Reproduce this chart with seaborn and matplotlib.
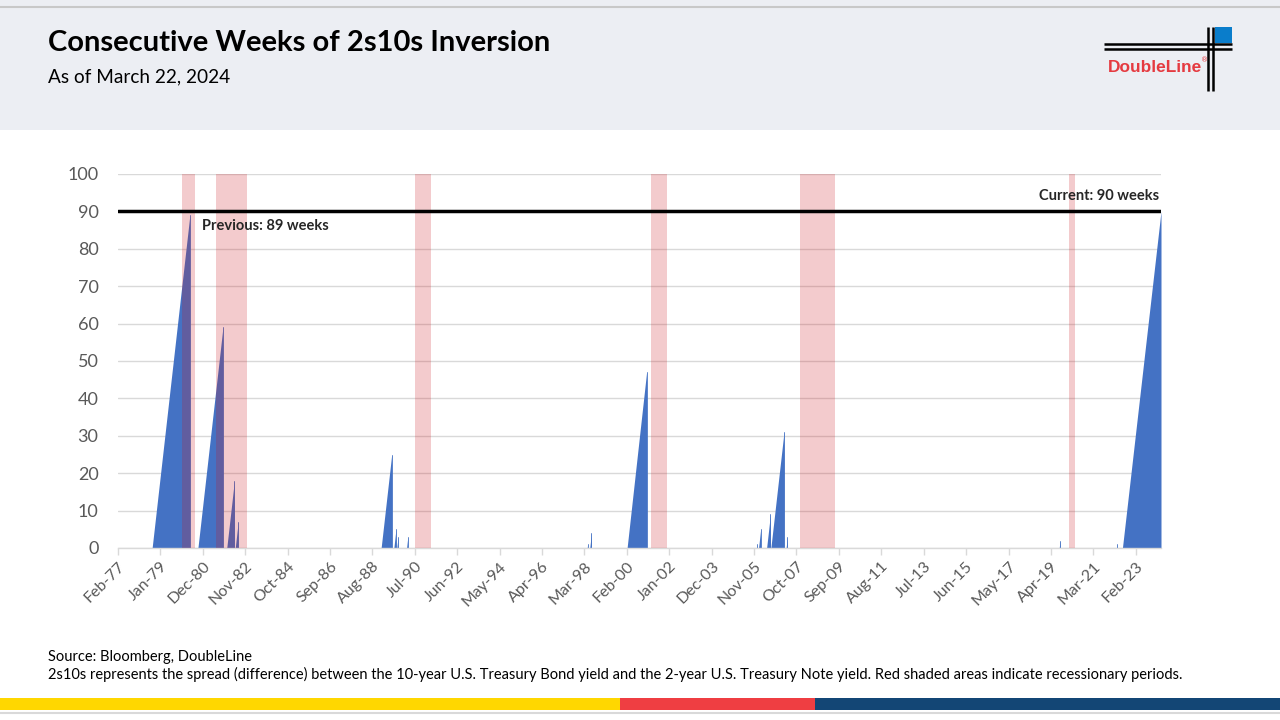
import pandas as pd
import matplotlib.pyplot as plt
import seaborn as sns
from matplotlib.patches import Rectangle

# inversion episodes: last week with 0, week of the peak, peak weeks
ep_start = ['1978-08-18', '1980-09-12', '1982-01-01', '1982-05-21', '1988-12-23',
            '1989-07-21', '1989-09-08', '1990-02-16', '1998-04-17', '1998-05-29',
            '2000-02-04', '2005-12-16', '2006-01-13', '2006-05-26', '2006-08-04',
            '2007-04-13', '2019-08-16', '2022-03-25', '2022-06-24']
ep_end = ['1980-05-02', '1981-10-30', '1982-05-07', '1982-07-09', '1989-06-16',
          '1989-08-25', '1989-09-29', '1990-03-09', '1998-04-24', '1998-06-26',
          '2000-12-22', '2005-12-23', '2006-02-17', '2006-07-28', '2007-03-09',
          '2007-05-04', '2019-08-30', '2022-04-01', '2024-03-22']
ep_peak = [89, 59, 18, 7, 25, 5, 3, 3, 1, 4, 47, 1, 5, 9, 31, 3, 2, 1, 90]

# NBER recessions
rec_start = ['1980-01-01', '1981-07-01', '1990-07-01', '2001-03-01', '2007-12-01', '2020-02-01']
rec_end = ['1980-07-31', '1982-11-30', '1991-03-31', '2001-11-30', '2009-06-30', '2020-04-30']

tick_labels = ['Feb-77', 'Jan-79', 'Dec-80', 'Nov-82', 'Oct-84', 'Sep-86', 'Aug-88',
               'Jul-90', 'Jun-92', 'May-94', 'Apr-96', 'Mar-98', 'Feb-00', 'Jan-02',
               'Dec-03', 'Nov-05', 'Oct-07', 'Sep-09', 'Aug-11', 'Jul-13', 'Jun-15',
               'May-17', 'Apr-19', 'Mar-21', 'Feb-23']

prev_peak = 89
current = 90

rows = []
for i, (s, e, p) in enumerate(zip(ep_start, ep_end, ep_peak)):
    rows.append((i, pd.Timestamp(s), 0))
    rows.append((i, pd.Timestamp(e), p))
    rows.append((i, pd.Timestamp(e), 0))
df = pd.DataFrame(rows, columns=['episode', 'date', 'weeks'])

sns.set_theme(style='white')
plt.rcParams['font.family'] = ['Lato', 'DejaVu Sans']

fig = plt.figure(figsize=(12.8, 7.2), dpi=100)
fig.patch.set_facecolor('white')

# decoration layer in pixel coordinates
deco = fig.add_axes([0, 0, 1, 1], zorder=0)
deco.set_xlim(0, 1280)
deco.set_ylim(720, 0)
deco.axis('off')
deco.add_patch(Rectangle((0, 0), 1280, 130, color='#ECEEF3', lw=0))
deco.plot([0, 1280], [7, 7], color='#C8C8C8', lw=1.5)
deco.text(48, 43, 'Consecutive Weeks of 2s10s Inversion', fontsize=21, fontweight='bold',
          va='center', ha='left', color='black')
deco.text(48, 77, 'As of March 22, 2024', fontsize=13.7, va='center', ha='left', color='black')

# logo
for yy in (44, 49):
    deco.plot([1104, 1232], [yy, yy], color='black', lw=1.8, solid_capstyle='butt')
for xx in (1207.5, 1213):
    deco.plot([xx, xx], [27, 91], color='black', lw=1.8, solid_capstyle='butt')
deco.add_patch(Rectangle((1215, 27), 17, 16, color='#0A7DCB', lw=0))
deco.text(1108, 68, 'DoubleLine', fontsize=12.4, fontweight='bold', color='#E53A40',
          family='Liberation Sans', va='center', ha='left')
deco.text(1201, 60, '®', fontsize=5, color='#E53A40', family='DejaVu Sans', va='center')

# footer
deco.text(48, 657, 'Source: Bloomberg, DoubleLine', fontsize=10.5, va='center', color='black')
deco.text(48, 674, '2s10s represents the spread (difference) between the 10-year U.S. Treasury Bond '
          'yield and the 2-year U.S. Treasury Note yield. Red shaded areas indicate recessionary periods.',
          fontsize=10.5, va='center', color='black')
deco.add_patch(Rectangle((0, 698), 620, 12, color='#FFD700', lw=0))
deco.add_patch(Rectangle((620, 698), 195, 12, color='#EF3E42', lw=0))
deco.add_patch(Rectangle((815, 698), 465, 12, color='#134675', lw=0))
deco.plot([0, 1280], [713, 713], color='#D9D9D9', lw=1.5)

# chart
ax = fig.add_axes([118 / 1280, (720 - 548) / 720, (1161 - 118) / 1280, (548 - 174) / 720], zorder=1)
ax.patch.set_alpha(0)

for i, g in df.groupby('episode'):
    ax.fill_between(g['date'], 0, g['weeks'], color='#4472C4', lw=0, zorder=2)
sns.lineplot(data=df, x='date', y='weeks', units='episode', estimator=None,
             color='#4472C4', lw=0.6, ax=ax, zorder=2, legend=False)

for s, e in zip(rec_start, rec_end):
    ax.axvspan(pd.Timestamp(s), pd.Timestamp(e), color='#CC141C', alpha=0.22, lw=0, zorder=3)

ax.axhline(current, color='black', lw=2.5, zorder=4)
ax.annotate(f'Previous: {prev_peak} weeks', xy=(pd.Timestamp(ep_end[0]), prev_peak),
            xytext=(9, -7.5), textcoords='offset points', fontsize=10.5, fontweight='bold',
            ha='left', va='center', zorder=5)
ax.annotate(f'Current: {current} weeks', xy=(pd.Timestamp(ep_end[-1]), current),
            xytext=(-1, 11), textcoords='offset points', fontsize=10.5, fontweight='bold',
            ha='right', va='center', zorder=5)

ax.set_xlim(pd.Timestamp('1977-02-01'), pd.Timestamp('2024-03-22'))
ax.set_ylim(0, 100)
ax.set_yticks(range(0, 101, 10))
ax.yaxis.grid(True, color='#D9D9D9', lw=1)
ax.set_axisbelow(True)
ticks = pd.to_datetime(tick_labels, format='%b-%y')
ax.set_xticks(ticks)
ax.set_xticklabels(tick_labels, rotation=45, ha='right', rotation_mode='anchor')
ax.tick_params(axis='x', which='major', bottom=True, length=5, width=1, color='#D9D9D9',
               labelsize=11.5, labelcolor='#595959', pad=3)
ax.tick_params(axis='y', length=0, labelsize=13, labelcolor='#595959', pad=14)
for side in ['top', 'right', 'left']:
    ax.spines[side].set_visible(False)
ax.spines['bottom'].set_color('#D9D9D9')
ax.spines['bottom'].set_linewidth(1)
ax.set_xlabel('')
ax.set_ylabel('')

fig.savefig('out.png', dpi=100)
